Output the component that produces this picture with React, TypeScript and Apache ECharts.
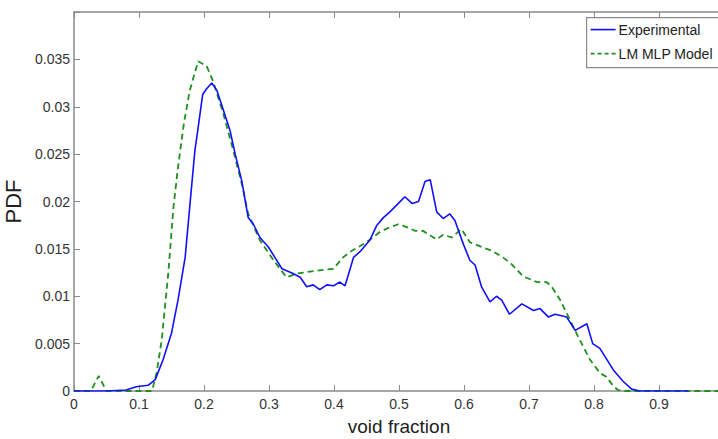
import React, { useEffect, useRef } from "react";
import * as echarts from "echarts";

const xTicks = [0, 0.1, 0.2, 0.3, 0.4, 0.5, 0.6, 0.7, 0.8, 0.9];
const yTicks = [0, 0.005, 0.01, 0.015, 0.02, 0.025, 0.03, 0.035];

const expVoid = [0, 0.05, 0.08, 0.096, 0.114, 0.125, 0.137, 0.15, 0.16, 0.171, 0.178, 0.186, 0.191, 0.198, 0.204, 0.212, 0.22, 0.23, 0.24, 0.248, 0.258, 0.268, 0.276, 0.286, 0.299, 0.309, 0.32, 0.337, 0.348, 0.358, 0.368, 0.378, 0.389, 0.399, 0.409, 0.417, 0.43, 0.44, 0.455, 0.466, 0.476, 0.486, 0.499, 0.509, 0.52, 0.53, 0.54, 0.548, 0.558, 0.568, 0.578, 0.586, 0.599, 0.609, 0.617, 0.627, 0.64, 0.65, 0.658, 0.67, 0.689, 0.707, 0.717, 0.73, 0.74, 0.758, 0.771, 0.789, 0.798, 0.809, 0.83, 0.845, 0.858, 0.87, 0.945];
const expPdf = [0, 0, 0.0001, 0.00045, 0.0006, 0.0012, 0.0033, 0.0061, 0.0096, 0.0141, 0.0194, 0.0254, 0.0278, 0.0313, 0.0319, 0.0325, 0.0317, 0.0296, 0.0275, 0.025, 0.0222, 0.0183, 0.0176, 0.0162, 0.0152, 0.0141, 0.0129, 0.0124, 0.012, 0.011, 0.0112, 0.0107, 0.0112, 0.0111, 0.0115, 0.0111, 0.0141, 0.0147, 0.0159, 0.0175, 0.0183, 0.0189, 0.0198, 0.0205, 0.0198, 0.02, 0.0221, 0.0223, 0.0189, 0.0182, 0.0187, 0.018, 0.0155, 0.0138, 0.0133, 0.011, 0.0094, 0.01, 0.0096, 0.0081, 0.0092, 0.0085, 0.0087, 0.0078, 0.0081, 0.0078, 0.0064, 0.0071, 0.005, 0.0045, 0.0022, 0.001, 0.0002, 0, 0];

const mlpVoid = [0, 0.015, 0.026, 0.038, 0.05, 0.12, 0.127, 0.135, 0.145, 0.153, 0.16, 0.169, 0.178, 0.191, 0.204, 0.214, 0.23, 0.245, 0.258, 0.268, 0.286, 0.307, 0.327, 0.343, 0.373, 0.399, 0.414, 0.425, 0.45, 0.471, 0.486, 0.499, 0.512, 0.525, 0.537, 0.558, 0.568, 0.581, 0.596, 0.609, 0.627, 0.643, 0.66, 0.673, 0.691, 0.712, 0.727, 0.735, 0.748, 0.763, 0.778, 0.794, 0.809, 0.819, 0.83, 0.837, 0.845, 1.0];
const mlpPdf = [0, 0, 0, 0.0016, 0, 0, 0.0019, 0.0054, 0.0124, 0.0194, 0.0236, 0.0282, 0.0317, 0.0348, 0.0343, 0.0327, 0.0292, 0.0254, 0.0219, 0.0187, 0.0159, 0.0138, 0.012, 0.0124, 0.0127, 0.0129, 0.0141, 0.0147, 0.0157, 0.0168, 0.0173, 0.0176, 0.0173, 0.0169, 0.0169, 0.016, 0.0165, 0.0162, 0.0171, 0.0157, 0.0152, 0.0148, 0.0141, 0.0134, 0.0121, 0.0115, 0.0115, 0.011, 0.0096, 0.0075, 0.0054, 0.0033, 0.0019, 0.0015, 0.0005, 0.0001, 0, 0];

const seriesNames = ["Experimental", "LM MLP Model"];
const xTitle = "void fraction";
const yTitle = "PDF";

const FONT = "'Liberation Sans', Arial, Helvetica, sans-serif";
const BLUE = "#1010ff";
const GREEN = "#1f8f1f";
const AXIS = "#8a8a8a";
const TEXT = "#333333";

export default function App() {
  const ref = useRef<HTMLDivElement>(null);
  useEffect(() => {
    if (!ref.current) return;
    const chart = echarts.init(ref.current, null, { renderer: "svg" });
    const fmtX = (v: number) => {
      const r = Math.round(v * 10) / 10;
      return xTicks.some((t) => Math.abs(t - r) < 1e-9) ? String(r) : "";
    };
    const fmtY = (v: number) => {
      const r = Math.round(v * 1000) / 1000;
      return yTicks.some((t) => Math.abs(t - r) < 1e-9) ? String(r) : "";
    };
    chart.setOption({
      animation: false,
      backgroundColor: "#ffffff",
      grid: { left: 74, top: 12, right: -6, bottom: 48, containLabel: false, outerBoundsMode: "none" },
      xAxis: [
        {
          type: "value",
          min: 0,
          max: 1,
          interval: 0.1,
          position: "bottom",
          axisLine: { show: true, onZero: false, lineStyle: { color: AXIS, width: 1.5 } },
          axisTick: { show: true, inside: true, length: 6, lineStyle: { color: AXIS } },
          axisLabel: { formatter: fmtX, color: TEXT, fontFamily: FONT, fontSize: 14, margin: 6 },
          splitLine: { show: false },
          name: xTitle,
          nameLocation: "middle",
          nameGap: 26,
          nameTextStyle: { fontFamily: FONT, fontSize: 19, color: "#222" },
        },
        {
          type: "value",
          min: 0,
          max: 1,
          interval: 0.1,
          position: "top",
          axisLine: { show: true, onZero: false, lineStyle: { color: AXIS, width: 1.5 } },
          axisTick: { show: true, inside: true, length: 6, lineStyle: { color: AXIS } },
          axisLabel: { show: false },
          splitLine: { show: false },
        },
      ],
      yAxis: [
        {
          type: "value",
          min: 0,
          max: 0.04,
          interval: 0.005,
          position: "left",
          axisLine: { show: true, onZero: false, lineStyle: { color: AXIS, width: 1.5 } },
          axisTick: { show: true, inside: true, length: 6, lineStyle: { color: AXIS } },
          axisLabel: { formatter: fmtY, color: TEXT, fontFamily: FONT, fontSize: 14, margin: 4 },
          splitLine: { show: false },
          name: yTitle,
          nameLocation: "middle",
          nameGap: 40,
          nameTextStyle: { fontFamily: FONT, fontSize: 22, color: "#222" },
        },
        {
          type: "value",
          min: 0,
          max: 0.04,
          interval: 0.005,
          position: "right",
          axisLine: { show: true, onZero: false, lineStyle: { color: AXIS, width: 1.5 } },
          axisTick: { show: true, inside: true, length: 6, lineStyle: { color: AXIS } },
          axisLabel: { show: false },
          splitLine: { show: false },
        },
      ],
      series: [
        {
          name: seriesNames[1],
          type: "line",
          xAxisIndex: 0,
          yAxisIndex: 0,
          data: mlpVoid.map((x, i) => [x, mlpPdf[i]]),
          showSymbol: false,
          symbol: "none",
          lineStyle: { color: GREEN, width: 1.8, type: [6, 4] },
          z: 3,
        },
        {
          name: seriesNames[0],
          type: "line",
          xAxisIndex: 0,
          yAxisIndex: 0,
          data: expVoid.map((x, i) => [x, expPdf[i]]),
          showSymbol: false,
          symbol: "none",
          lineStyle: { color: BLUE, width: 1.6 },
          z: 4,
        },
      ],
      graphic: [
        {
          type: "group",
          left: 586,
          top: 17,
          z: 100,
          children: [
            {
              type: "rect",
              shape: { x: 0, y: 0, width: 150, height: 50 },
              style: { fill: "#ffffff", stroke: AXIS, lineWidth: 1.2 },
            },
            {
              type: "line",
              shape: { x1: 4, y1: 12, x2: 29, y2: 12 },
              style: { stroke: BLUE, lineWidth: 1.6 },
            },
            {
              type: "text",
              x: 32,
              y: 12,
              style: { text: seriesNames[0], font: `14px ${FONT}`, fill: "#222", verticalAlign: "middle" },
            },
            {
              type: "line",
              shape: { x1: 4, y1: 36, x2: 29, y2: 36 },
              style: { stroke: GREEN, lineWidth: 1.8, lineDash: [4, 3] },
            },
            {
              type: "text",
              x: 32,
              y: 36,
              style: { text: seriesNames[1], font: `14px ${FONT}`, fill: "#222", verticalAlign: "middle" },
            },
          ],
        },
      ],
    });
    return () => chart.dispose();
  }, []);
  return (
    <div
      ref={ref}
      style={{ position: "fixed", left: 0, top: 0, width: 718, height: 439, background: "#fff" }}
    />
  );
}
